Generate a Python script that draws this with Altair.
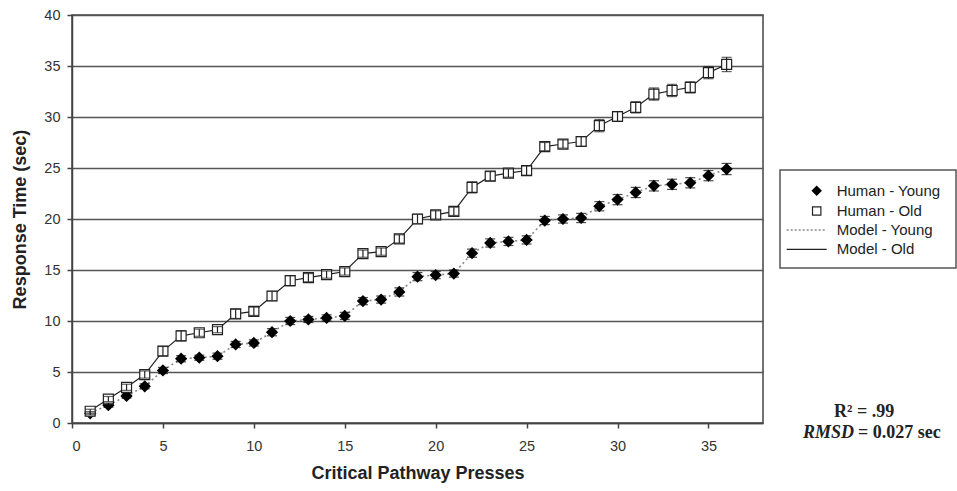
import altair as alt
import pandas as pd

# ---- data ----
presses = list(range(1, 37))

human_young = [0.95, 1.75, 2.65, 3.6, 5.15, 6.3, 6.4, 6.55, 7.7, 7.85, 8.9, 10.0,
               10.15, 10.3, 10.5, 11.95, 12.1, 12.85, 14.35, 14.5, 14.65, 16.65, 17.65, 17.8,
               17.95, 19.85, 20.0, 20.1, 21.25, 21.9, 22.6, 23.25, 23.4, 23.55, 24.25, 24.9]
human_young_err = [0.15, 0.2, 0.2, 0.25, 0.3, 0.3, 0.25, 0.3, 0.3, 0.3, 0.35, 0.35,
                   0.3, 0.3, 0.35, 0.35, 0.35, 0.4, 0.4, 0.35, 0.35, 0.4, 0.4, 0.4,
                   0.4, 0.4, 0.4, 0.45, 0.45, 0.5, 0.5, 0.5, 0.5, 0.5, 0.5, 0.55]

human_old = [1.15, 2.35, 3.5, 4.75, 7.05, 8.55, 8.85, 9.15, 10.7, 10.95, 12.45, 13.95,
             14.25, 14.55, 14.85, 16.6, 16.8, 18.05, 20.0, 20.4, 20.75, 23.1, 24.2, 24.5,
             24.75, 27.1, 27.35, 27.6, 29.15, 30.05, 30.95, 32.25, 32.6, 32.9, 34.35, 35.15]
human_old_err = [0.2, 0.25, 0.3, 0.35, 0.45, 0.5, 0.35, 0.3, 0.45, 0.4, 0.45, 0.5,
                 0.4, 0.35, 0.35, 0.35, 0.35, 0.4, 0.45, 0.4, 0.4, 0.55, 0.45, 0.4,
                 0.45, 0.4, 0.4, 0.45, 0.6, 0.45, 0.55, 0.6, 0.6, 0.55, 0.6, 0.7]

model_young = [1.0, 1.75, 2.65, 3.6, 5.15, 6.3, 6.4, 6.55, 7.7, 7.85, 8.9, 10.0,
               10.15, 10.3, 10.5, 11.95, 12.1, 12.85, 14.35, 14.5, 14.65, 16.65, 17.65, 17.8,
               17.95, 19.85, 20.0, 20.1, 21.25, 21.9, 22.6, 23.25, 23.4, 23.55, 24.25, 24.9]
model_old = [1.2, 2.35, 3.5, 4.75, 7.05, 8.55, 8.85, 9.15, 10.7, 10.95, 12.45, 13.95,
             14.25, 14.55, 14.85, 16.6, 16.8, 18.05, 20.0, 20.4, 20.75, 23.1, 24.2, 24.5,
             24.75, 27.1, 27.35, 27.6, 29.15, 30.05, 30.95, 32.25, 32.6, 32.9, 34.35, 35.15]

x_ticks = [0, 5, 10, 15, 20, 25, 30, 35]
y_ticks = [0, 5, 10, 15, 20, 25, 30, 35, 40]

legend_labels = ["Human - Young", "Human - Old", "Model - Young", "Model - Old"]

FONT = "Liberation Sans"
SERIF = "Liberation Serif"

young = pd.DataFrame({"x": presses, "y": human_young,
                      "lo": [v - e for v, e in zip(human_young, human_young_err)],
                      "hi": [v + e for v, e in zip(human_young, human_young_err)]})
old = pd.DataFrame({"x": presses, "y": human_old,
                    "lo": [v - e for v, e in zip(human_old, human_old_err)],
                    "hi": [v + e for v, e in zip(human_old, human_old_err)]})
m_young = pd.DataFrame({"x": presses, "y": model_young})
m_old = pd.DataFrame({"x": presses, "y": model_old})

X_TITLE = "Critical Pathway Presses"
Y_TITLE = "Response Time (sec)"


def X():
    return alt.X("x:Q", title=X_TITLE,
                 scale=alt.Scale(domain=[0, 38], nice=False, zero=True),
                 axis=alt.Axis(values=x_ticks, grid=False, labelPadding=11, titlePadding=12,
                               format="d"))


def Y(field="y:Q"):
    return alt.Y(field, title=Y_TITLE,
                 scale=alt.Scale(domain=[0, 40], nice=False),
                 axis=alt.Axis(values=y_ticks, grid=True, gridColor="#555", gridWidth=1.5,
                               labelPadding=7, titlePadding=14, format="d"))


line_old = alt.Chart(m_old).mark_line(color="#222", strokeWidth=1.2).encode(x=X(), y=Y())
line_young = alt.Chart(m_young).mark_line(color="#888", strokeWidth=1.6,
                                          strokeDash=[2, 3]).encode(x=X(), y=Y())
pts_young = alt.Chart(young).mark_point(shape="diamond", filled=True, color="black",
                                        size=150, opacity=1).encode(x=X(), y=Y())
pts_old = alt.Chart(old).mark_point(shape="square", filled=True, fill="white",
                                    stroke="#222", strokeWidth=1.2, size=100,
                                    opacity=1).encode(x=X(), y=Y())
err_young = alt.Chart(young).mark_errorbar(ticks=True, size=10, thickness=1.2,
                                           color="black").encode(
    x=X(), y=Y("lo:Q"), y2="hi:Q")
err_old = alt.Chart(old).mark_errorbar(ticks=True, size=10, thickness=1.2,
                                       color="#222").encode(
    x=X(), y=Y("lo:Q"), y2="hi:Q")

main = alt.layer(line_young, line_old, pts_young, pts_old, err_young, err_old).properties(
    width=691, height=408,
    view=alt.ViewBackground(stroke="#444", strokeWidth=1.5))

# ---- side panel: legend box and fit statistics ----
PW, PH = 176, 408
px = alt.Scale(domain=[0, PW], nice=False, zero=False)
py = alt.Scale(domain=[0, PH], nice=False, zero=False, reverse=True)

box = pd.DataFrame({"x0": [0], "x1": [PW], "y0": [155], "y1": [253]})
leg = pd.DataFrame({"label": legend_labels,
                    "ry": [175.7, 196, 215, 234.3],
                    "sx": [36.7, 36.7, 36.7, 36.7],
                    "lx0": [6.7, 6.7, 6.7, 6.7], "lx1": [46.7, 46.7, 46.7, 46.7],
                    "tx": [56.7, 56.7, 56.7, 56.7]})

box_l = alt.Chart(box).mark_rect(fill="white", stroke="#555", strokeWidth=1.5).encode(
    x=alt.X("x0:Q", scale=px, axis=None), x2="x1:Q",
    y=alt.Y("y0:Q", scale=py, axis=None), y2="y1:Q")
leg_diamond = alt.Chart(leg.iloc[[0]]).mark_point(shape="diamond", filled=True,
                                                  color="black", size=110, opacity=1).encode(
    x=alt.X("sx:Q", scale=px, axis=None), y=alt.Y("ry:Q", scale=py, axis=None))
leg_square = alt.Chart(leg.iloc[[1]]).mark_point(shape="square", filled=True, fill="white",
                                                 stroke="#222", strokeWidth=1.2, size=70,
                                                 opacity=1).encode(
    x=alt.X("sx:Q", scale=px, axis=None), y=alt.Y("ry:Q", scale=py, axis=None))
leg_dot = alt.Chart(leg.iloc[[2]]).mark_rule(color="#888", strokeWidth=1.4,
                                             strokeDash=[2, 2]).encode(
    x=alt.X("lx0:Q", scale=px, axis=None), x2="lx1:Q",
    y=alt.Y("ry:Q", scale=py, axis=None))
leg_solid = alt.Chart(leg.iloc[[3]]).mark_rule(color="#222", strokeWidth=1.2).encode(
    x=alt.X("lx0:Q", scale=px, axis=None), x2="lx1:Q",
    y=alt.Y("ry:Q", scale=py, axis=None))
leg_text = alt.Chart(leg).mark_text(align="left", baseline="middle", font=FONT,
                                    fontSize=15, color="#222").encode(
    x=alt.X("tx:Q", scale=px, axis=None), y=alt.Y("ry:Q", scale=py, axis=None),
    text="label:N")

stats = pd.DataFrame({"t": ["R\u00b2 = .99", "RMSD", "= 0.027 sec"],
                      "tx": [54, 23, 78], "ty": [396.7, 418.3, 418.3],
                      "st": ["normal", "italic", "normal"]})
stat_n = alt.Chart(stats[stats.st == "normal"]).mark_text(
    align="left", baseline="middle", font=SERIF, fontSize=18, fontWeight="bold",
    color="#222").encode(
    x=alt.X("tx:Q", scale=px, axis=None), y=alt.Y("ty:Q", scale=py, axis=None), text="t:N")
stat_i = alt.Chart(stats[stats.st == "italic"]).mark_text(
    align="left", baseline="middle", font=SERIF, fontSize=18, fontWeight="bold",
    fontStyle="italic", color="#222").encode(
    x=alt.X("tx:Q", scale=px, axis=None), y=alt.Y("ty:Q", scale=py, axis=None), text="t:N")

side = alt.layer(box_l, leg_diamond, leg_square, leg_dot, leg_solid, leg_text,
                 stat_n, stat_i).properties(
    width=PW, height=PH, view=alt.ViewBackground(stroke=None))

chart = alt.hconcat(main, side, spacing=15).properties(
    padding={"left": 11, "top": 6, "right": 0, "bottom": 0},
    background="white",
).configure_axis(
    labelFont=FONT, labelFontSize=14.5, labelColor="#333",
    titleFont=FONT, titleFontSize=18, titleFontWeight="bold", titleColor="#222",
    tickColor="#444", tickSize=5, tickWidth=1.5, domainColor="#444", domainWidth=1.5,
)

chart.save("out.html", embed_options={"renderer": "svg", "actions": False})
